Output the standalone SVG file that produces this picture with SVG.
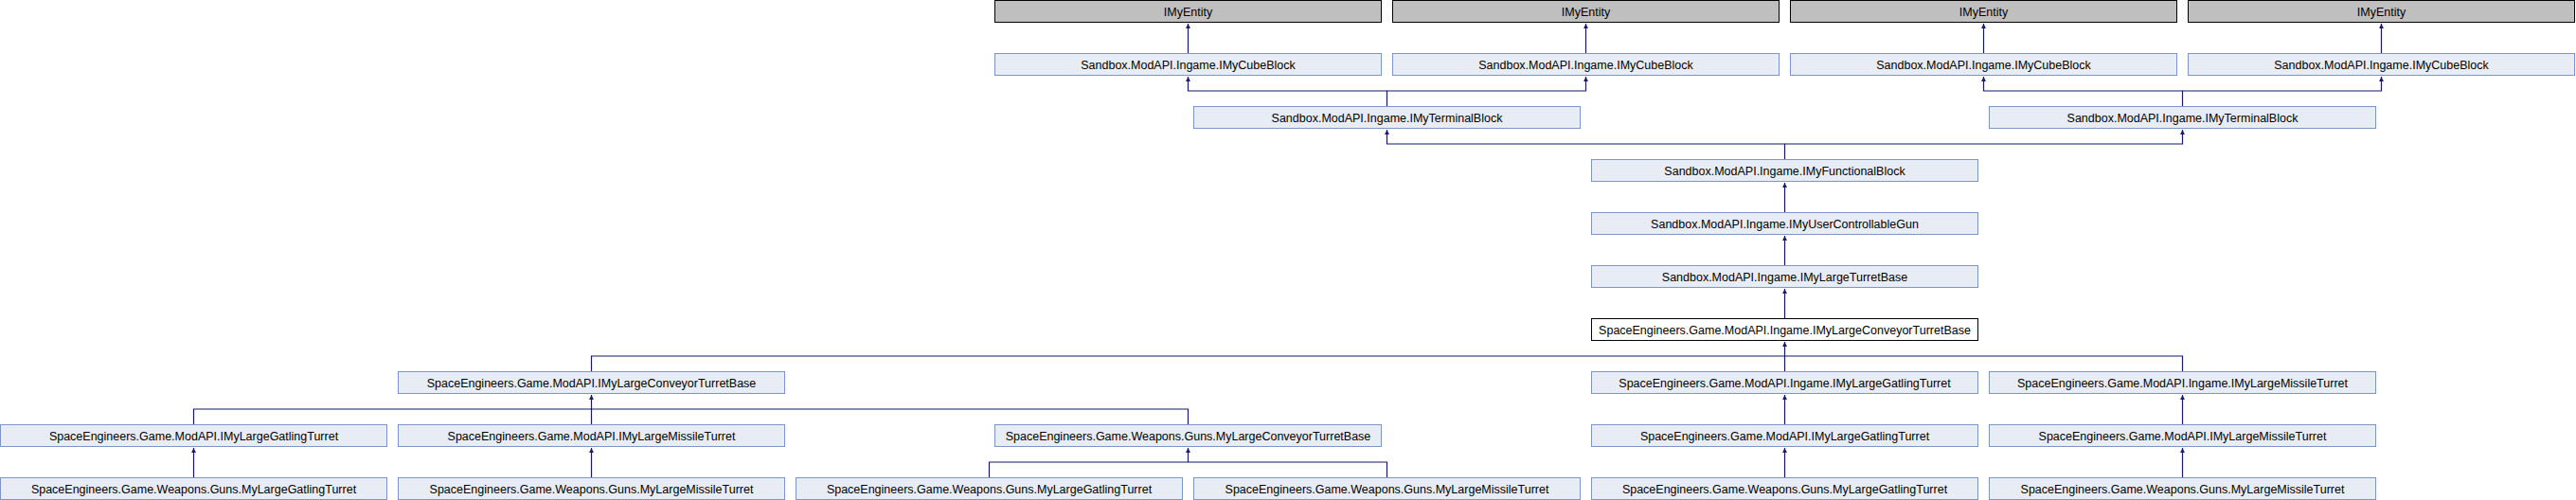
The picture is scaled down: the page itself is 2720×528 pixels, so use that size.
<svg xmlns="http://www.w3.org/2000/svg" width="2720" height="528" viewBox="0 0 2720 528">
<style>
.n rect{fill:#e8ecf5;stroke:#7c95cc;stroke-width:1}
.g rect{fill:#bfbfbf;stroke:#000;stroke-width:1}
.m rect{fill:#fff;stroke:#000;stroke-width:1}
text{font-family:"Liberation Sans",Arial,sans-serif;font-size:12.5px;fill:#000;text-anchor:middle}
.e path{fill:none;stroke:#191970;stroke-width:1.2}
</style>
<defs>
<marker id="a" markerUnits="userSpaceOnUse" markerWidth="6" markerHeight="6" viewBox="0 0 6 6" refX="5" refY="3" orient="auto">
<path d="M0,0.6 L5,3 L0,5.4 z" fill="#191970" stroke="none"/>
</marker>
</defs>
<rect width="2720" height="528" fill="#fff"/>
<g class="e" id="connectors">
<path d="M1254.5 56.5 V25" marker-end="url(#a)"/>
<path d="M1674.5 56.5 V25" marker-end="url(#a)"/>
<path d="M2094.5 56.5 V25" marker-end="url(#a)"/>
<path d="M2514.5 56.5 V25" marker-end="url(#a)"/>
<path d="M1464.5 112.5 V96 H1254.5 V81" marker-end="url(#a)"/>
<path d="M1464.5 96 H1674.5 V81" marker-end="url(#a)"/>
<path d="M2304.5 112.5 V96 H2094.5 V81" marker-end="url(#a)"/>
<path d="M2304.5 96 H2514.5 V81" marker-end="url(#a)"/>
<path d="M1884.5 168.5 V152 H1464.5 V137" marker-end="url(#a)"/>
<path d="M1884.5 152 H2304.5 V137" marker-end="url(#a)"/>
<path d="M1884.5 224.5 V193" marker-end="url(#a)"/>
<path d="M1884.5 280.5 V249" marker-end="url(#a)"/>
<path d="M1884.5 336.5 V305" marker-end="url(#a)"/>
<path d="M1884.5 392.5 V361" marker-end="url(#a)"/>
<path d="M624.5 392.5 V376 H2304.5 V392.5"/>
<path d="M624.5 448.5 V417" marker-end="url(#a)"/>
<path d="M204.5 448.5 V432 H1254.5 V448.5"/>
<path d="M1884.5 448.5 V417" marker-end="url(#a)"/>
<path d="M2304.5 448.5 V417" marker-end="url(#a)"/>
<path d="M204.5 504.5 V473" marker-end="url(#a)"/>
<path d="M624.5 504.5 V473" marker-end="url(#a)"/>
<path d="M1884.5 504.5 V473" marker-end="url(#a)"/>
<path d="M2304.5 504.5 V473" marker-end="url(#a)"/>
<path d="M1254.5 488 V473" marker-end="url(#a)"/>
<path d="M1044.5 504.5 V488 H1464.5 V504.5"/>
</g>
<g id="e1" class="g"><rect x="1050.5" y="0.5" width="408" height="23"/><text x="1254.5" y="16.5">IMyEntity</text></g>
<g id="e2" class="g"><rect x="1470.5" y="0.5" width="408" height="23"/><text x="1674.5" y="16.5">IMyEntity</text></g>
<g id="e3" class="g"><rect x="1890.5" y="0.5" width="408" height="23"/><text x="2094.5" y="16.5">IMyEntity</text></g>
<g id="e4" class="g"><rect x="2310.5" y="0.5" width="408" height="23"/><text x="2514.5" y="16.5">IMyEntity</text></g>
<g id="c1" class="n"><rect x="1050.5" y="56.5" width="408" height="23"/><text x="1254.5" y="72.5">Sandbox.ModAPI.Ingame.IMyCubeBlock</text></g>
<g id="c2" class="n"><rect x="1470.5" y="56.5" width="408" height="23"/><text x="1674.5" y="72.5">Sandbox.ModAPI.Ingame.IMyCubeBlock</text></g>
<g id="c3" class="n"><rect x="1890.5" y="56.5" width="408" height="23"/><text x="2094.5" y="72.5">Sandbox.ModAPI.Ingame.IMyCubeBlock</text></g>
<g id="c4" class="n"><rect x="2310.5" y="56.5" width="408" height="23"/><text x="2514.5" y="72.5">Sandbox.ModAPI.Ingame.IMyCubeBlock</text></g>
<g id="t1" class="n"><rect x="1260.5" y="112.5" width="408" height="23"/><text x="1464.5" y="128.5">Sandbox.ModAPI.Ingame.IMyTerminalBlock</text></g>
<g id="t2" class="n"><rect x="2100.5" y="112.5" width="408" height="23"/><text x="2304.5" y="128.5">Sandbox.ModAPI.Ingame.IMyTerminalBlock</text></g>
<g id="fb" class="n"><rect x="1680.5" y="168.5" width="408" height="23"/><text x="1884.5" y="184.5">Sandbox.ModAPI.Ingame.IMyFunctionalBlock</text></g>
<g id="ucg" class="n"><rect x="1680.5" y="224.5" width="408" height="23"/><text x="1884.5" y="240.5">Sandbox.ModAPI.Ingame.IMyUserControllableGun</text></g>
<g id="ltb" class="n"><rect x="1680.5" y="280.5" width="408" height="23"/><text x="1884.5" y="296.5">Sandbox.ModAPI.Ingame.IMyLargeTurretBase</text></g>
<g id="main" class="m"><rect x="1680.5" y="336.5" width="408" height="23"/><text x="1884.5" y="352.5">SpaceEngineers.Game.ModAPI.Ingame.IMyLargeConveyorTurretBase</text></g>
<g id="r7a" class="n"><rect x="420.5" y="392.5" width="408" height="23"/><text x="624.5" y="408.5">SpaceEngineers.Game.ModAPI.IMyLargeConveyorTurretBase</text></g>
<g id="r7b" class="n"><rect x="1680.5" y="392.5" width="408" height="23"/><text x="1884.5" y="408.5">SpaceEngineers.Game.ModAPI.Ingame.IMyLargeGatlingTurret</text></g>
<g id="r7c" class="n"><rect x="2100.5" y="392.5" width="408" height="23"/><text x="2304.5" y="408.5">SpaceEngineers.Game.ModAPI.Ingame.IMyLargeMissileTurret</text></g>
<g id="r8a" class="n"><rect x="0.5" y="448.5" width="408" height="23"/><text x="204.5" y="464.5">SpaceEngineers.Game.ModAPI.IMyLargeGatlingTurret</text></g>
<g id="r8b" class="n"><rect x="420.5" y="448.5" width="408" height="23"/><text x="624.5" y="464.5">SpaceEngineers.Game.ModAPI.IMyLargeMissileTurret</text></g>
<g id="r8c" class="n"><rect x="1050.5" y="448.5" width="408" height="23"/><text x="1254.5" y="464.5">SpaceEngineers.Game.Weapons.Guns.MyLargeConveyorTurretBase</text></g>
<g id="r8d" class="n"><rect x="1680.5" y="448.5" width="408" height="23"/><text x="1884.5" y="464.5">SpaceEngineers.Game.ModAPI.IMyLargeGatlingTurret</text></g>
<g id="r8e" class="n"><rect x="2100.5" y="448.5" width="408" height="23"/><text x="2304.5" y="464.5">SpaceEngineers.Game.ModAPI.IMyLargeMissileTurret</text></g>
<g id="r9a" class="n"><rect x="0.5" y="504.5" width="408" height="23"/><text x="204.5" y="520.5">SpaceEngineers.Game.Weapons.Guns.MyLargeGatlingTurret</text></g>
<g id="r9b" class="n"><rect x="420.5" y="504.5" width="408" height="23"/><text x="624.5" y="520.5">SpaceEngineers.Game.Weapons.Guns.MyLargeMissileTurret</text></g>
<g id="r9c" class="n"><rect x="840.5" y="504.5" width="408" height="23"/><text x="1044.5" y="520.5">SpaceEngineers.Game.Weapons.Guns.MyLargeGatlingTurret</text></g>
<g id="r9d" class="n"><rect x="1260.5" y="504.5" width="408" height="23"/><text x="1464.5" y="520.5">SpaceEngineers.Game.Weapons.Guns.MyLargeMissileTurret</text></g>
<g id="r9e" class="n"><rect x="1680.5" y="504.5" width="408" height="23"/><text x="1884.5" y="520.5">SpaceEngineers.Game.Weapons.Guns.MyLargeGatlingTurret</text></g>
<g id="r9f" class="n"><rect x="2100.5" y="504.5" width="408" height="23"/><text x="2304.5" y="520.5">SpaceEngineers.Game.Weapons.Guns.MyLargeMissileTurret</text></g>
</svg>
